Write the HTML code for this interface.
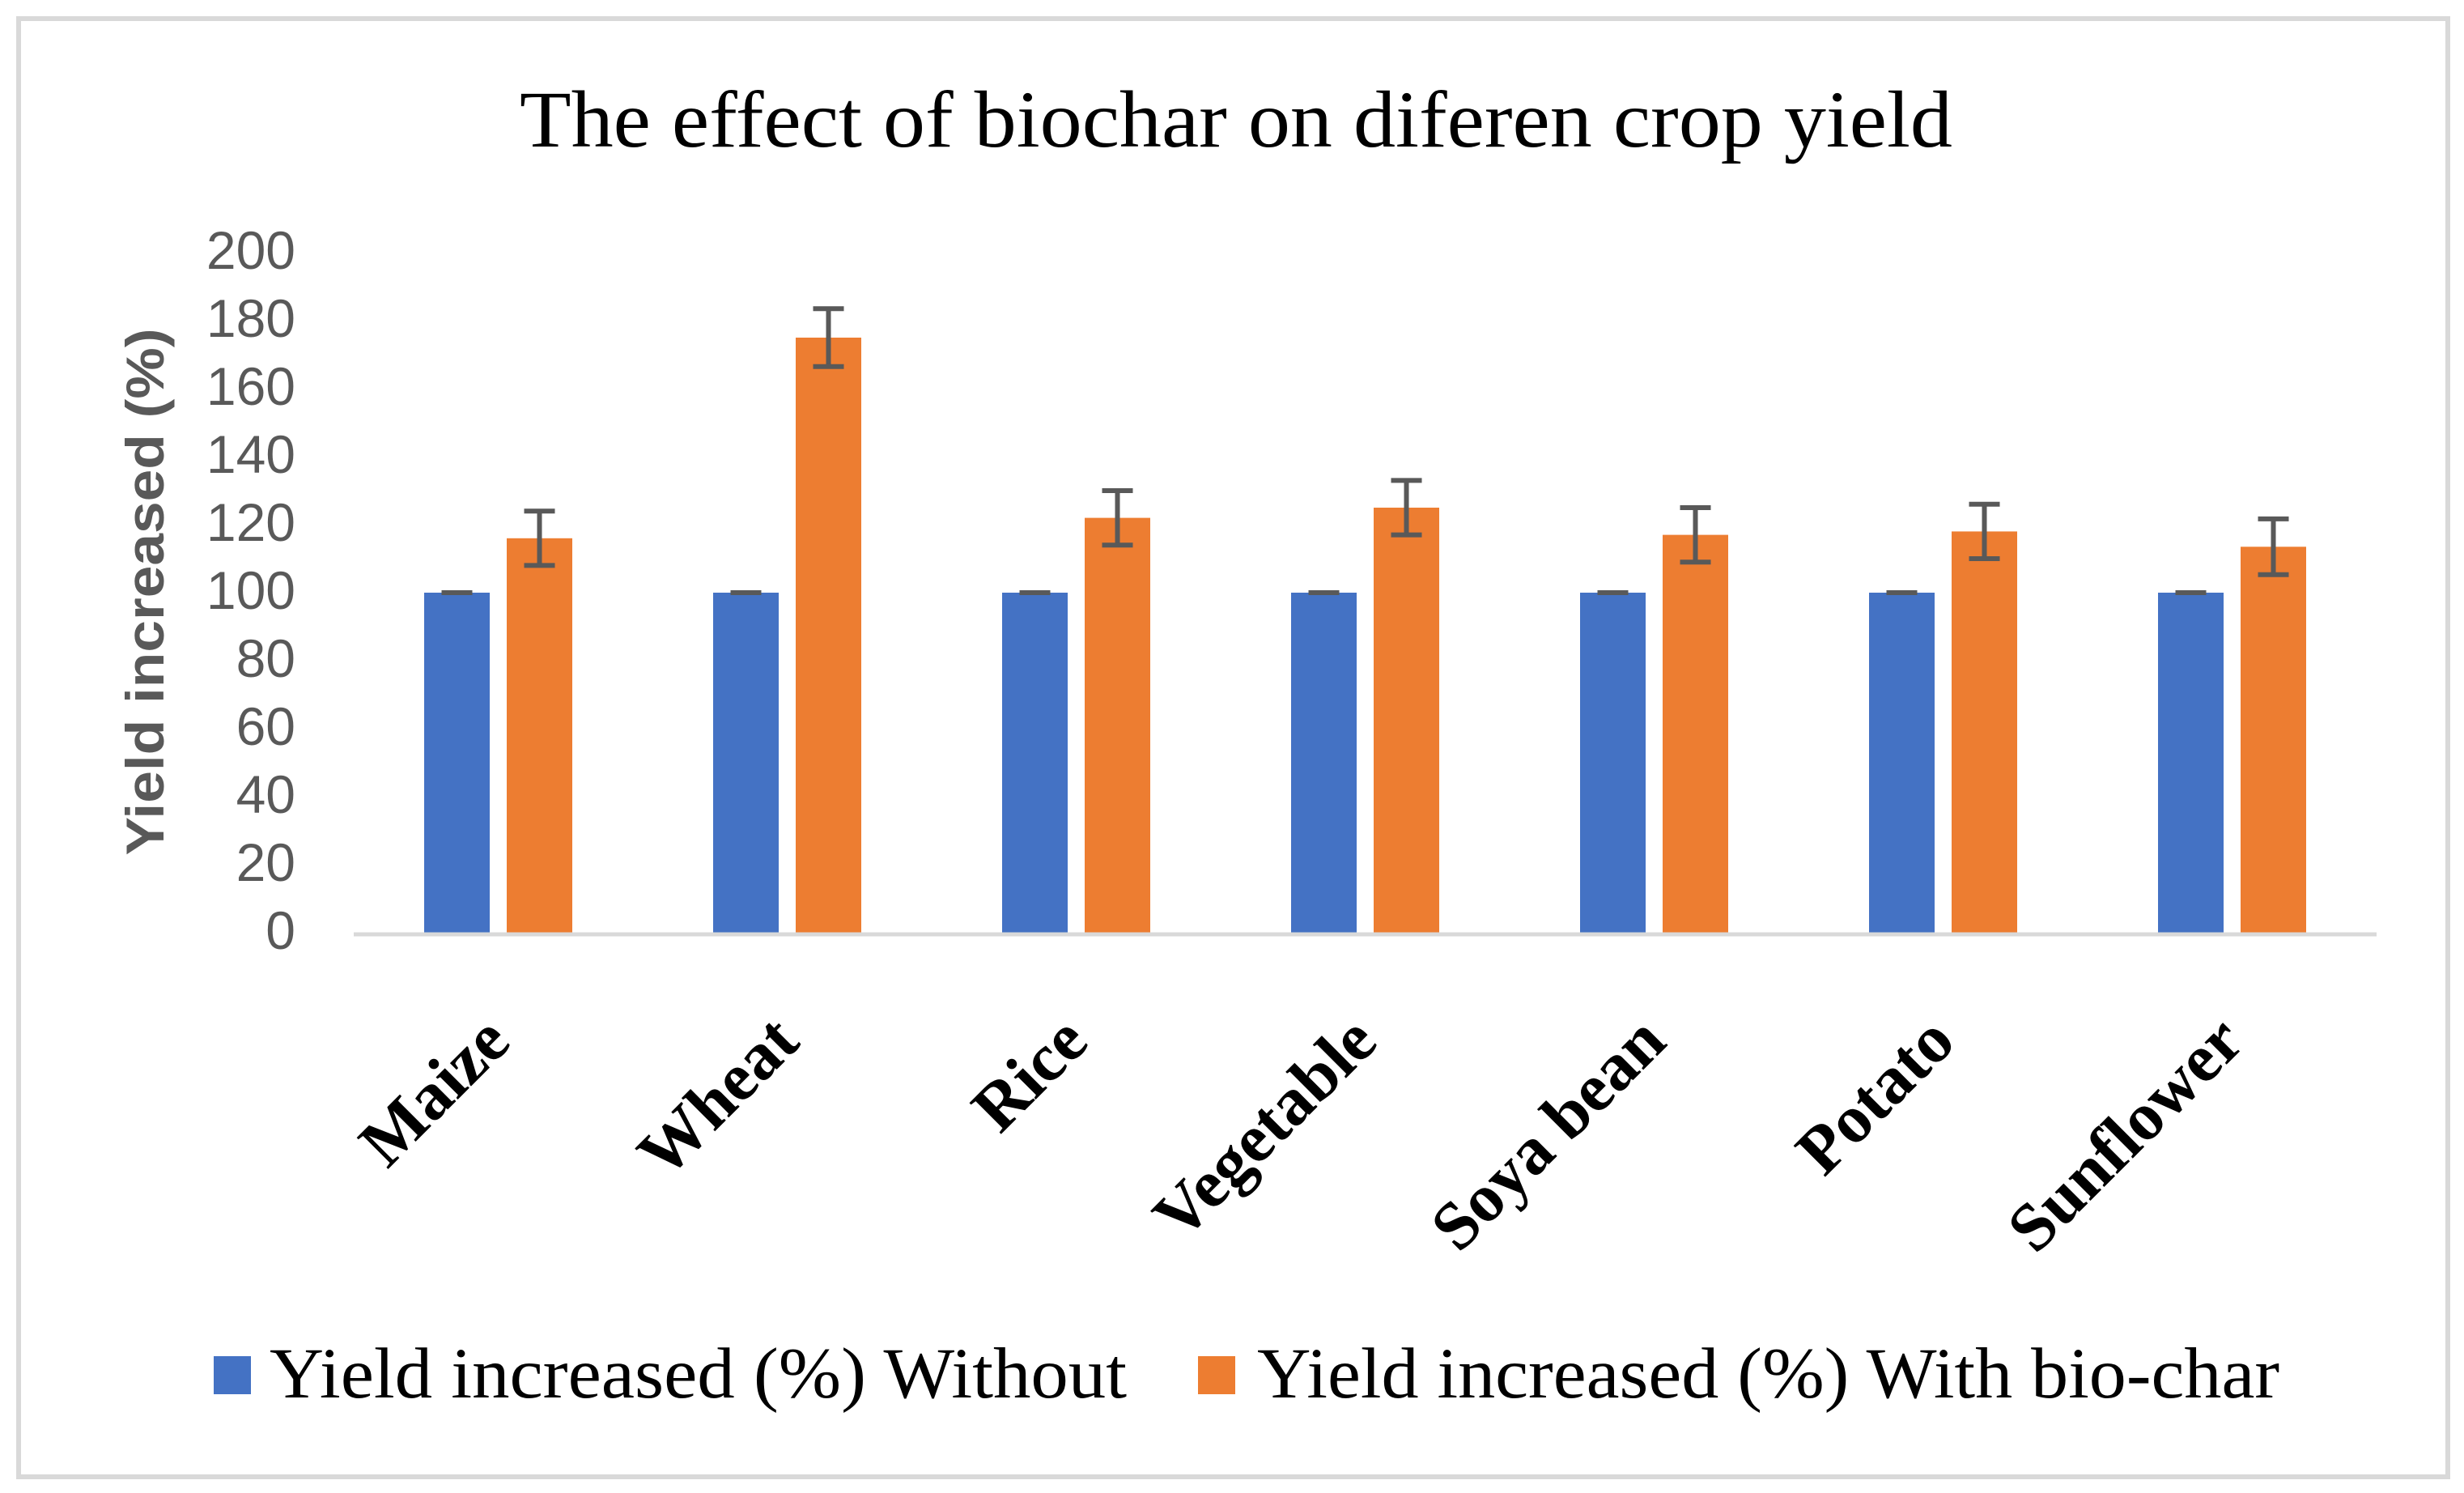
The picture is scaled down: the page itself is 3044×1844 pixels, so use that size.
<!DOCTYPE html>
<html><head><meta charset="utf-8"><style>html,body{margin:0;padding:0;background:#fff}svg{display:block}</style></head>
<body>
<svg id="chart" width="3044" height="1844" viewBox="0 0 3044 1844" xmlns="http://www.w3.org/2000/svg">
<rect x="23" y="23" width="3001" height="1801" fill="#fff" stroke="#d9d9d9" stroke-width="6"/>
<text x="1527" y="181" text-anchor="middle" font-family="Liberation Serif, serif" font-size="100" textLength="1770" lengthAdjust="spacingAndGlyphs" fill="#000">The effect of biochar on diferen crop yield</text>
<text transform="translate(202,731) rotate(-90)" text-anchor="middle" font-family="Liberation Sans, sans-serif" font-weight="bold" font-size="66" textLength="651" lengthAdjust="spacingAndGlyphs" fill="#595959">Yield increased (%)</text>
<g id="yticks"></g>
<g id="bars"></g>
<line x1="437" y1="1154" x2="2936" y2="1154" stroke="#d9d9d9" stroke-width="5"/>
<g id="xlabels"></g>
<g>
<rect x="264" y="1675" width="46" height="47" fill="#4472C4"/>
<text x="333" y="1726" font-family="Liberation Serif, serif" font-size="89" textLength="1059" lengthAdjust="spacingAndGlyphs" fill="#000">Yield increased (%) Without</text>
<rect x="1480" y="1675" width="46" height="47" fill="#ED7D31"/>
<text x="1553" y="1726" font-family="Liberation Serif, serif" font-size="89" textLength="1263" lengthAdjust="spacingAndGlyphs" fill="#000">Yield increased (%) With bio-char</text>
</g>
</svg>
<script>
const categories = ["Maize","Wheat","Rice","Vegetable","Soya bean","Potato","Sunflower"];
const withoutValues = [100,100,100,100,100,100,100];
const withoutErrors = [0,0,0,0,0,0,0];
const withValues = [116,175,122,125,117,118,113.5];
const withErrors = [8,8.5,8,8,8,8,8.2];
const yTicks = [0,20,40,60,80,100,120,140,160,180,200];

const NS = "http://www.w3.org/2000/svg";
const plotLeft = 437, plotRight = 2936, y0 = 1152, yTop = 312;
const yMax = 200;
function yScale(v){ return y0 - (v / yMax) * (y0 - yTop); }
const band = (plotRight - plotLeft) / categories.length;
function xCenter(i){ return plotLeft + band * (i + 0.5); }
const barW = 81, gap = 21;

function mk(tag, attrs, parent){
  const el = document.createElementNS(NS, tag);
  for (const k in attrs) el.setAttribute(k, attrs[k]);
  parent.appendChild(el);
  return el;
}

const yt = document.getElementById('yticks');
yTicks.forEach(v => {
  const t = mk('text', {x: 365, y: yScale(v) + 20, 'text-anchor': 'end', 'font-family': 'Liberation Sans, sans-serif', 'font-size': 66, fill: '#595959'}, yt);
  
  
  t.textContent = v;
});

const bars = document.getElementById('bars');
function errBar(cx, v, e){
  const g = mk('g', {stroke: '#595959', 'stroke-width': 6}, bars);
  
  
  const yt1 = yScale(v + e), yb1 = yScale(v - e);
  mk('line', {x1: cx, x2: cx, y1: yt1, y2: yb1}, g);
  mk('line', {x1: cx - 19, x2: cx + 19, y1: yt1, y2: yt1}, g);
  mk('line', {x1: cx - 19, x2: cx + 19, y1: yb1, y2: yb1}, g);
}
categories.forEach((c, i) => {
  const cx = xCenter(i);
  const bx1 = cx - gap/2 - barW;
  const r1 = mk('rect', {x: bx1, y: yScale(withoutValues[i]), width: barW, height: y0 - yScale(withoutValues[i]), fill: '#4472C4'}, bars);
  
  
  const bx2 = cx + gap/2;
  const r2 = mk('rect', {x: bx2, y: yScale(withValues[i]), width: barW, height: y0 - yScale(withValues[i]), fill: '#ED7D31'}, bars);
  
  
  errBar(bx1 + barW/2, withoutValues[i], withoutErrors[i]);
  errBar(bx2 + barW/2, withValues[i], withErrors[i]);
});

const xl = document.getElementById('xlabels');
categories.forEach((c, i) => {
  const ax = xCenter(i) + 18, ay = 1290;
  const t = mk('text', {transform: 'translate(' + ax + ',' + ay + ') rotate(-45)', 'text-anchor': 'end', 'font-family': 'Liberation Serif, serif', 'font-weight': 'bold', 'font-size': 84, fill: '#000'}, xl);
  
  
  t.textContent = c;
});
</script>
</body></html>
